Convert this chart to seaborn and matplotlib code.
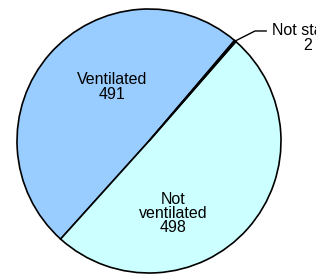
import numpy as np
import seaborn as sns
import matplotlib.pyplot as plt

categories = ["Ventilated", "Not ventilated", "Not stated"]
counts = [491, 498, 2]
label_texts = ["Ventilated\n491", "Not\nventilated\n498", "Not stated\n2"]
colors = ["#99CCFF", "#CCFFFF", "#FFFFFF"]

sns.set_style("white")
plt.rcParams["font.family"] = ["Liberation Sans", "DejaVu Sans"]

W, H = 327, 278
right_px = 316  # plot area ends before the right border (clips the last label)
fig = plt.figure(figsize=(W / 100, H / 100), dpi=100)
ax = fig.add_axes([0, 0, right_px / W, 1])

r_px = 132
cx, cy = 149, 141  # pie centre in pixels from top-left
wedges, _ = ax.pie(counts, colors=colors, startangle=49.6, counterclock=True,
                   radius=1.0,
                   wedgeprops=dict(edgecolor="black", linewidth=1.2))
ax.set_aspect("auto")
ax.set_xlim(-cx / r_px, (right_px - cx) / r_px)
ax.set_ylim(-(H - cy) / r_px, cy / r_px)
ax.axis("off")

fs = 11.5
ax.text(-0.28, 0.41, label_texts[0], ha="center", va="center", fontsize=fs,
        linespacing=0.95, color="black")
ax.text(0.18, -0.55, label_texts[1], ha="center", va="center", fontsize=fs,
        linespacing=0.95, color="black")

# leader line for the tiny slice
w = wedges[2]
mid = np.deg2rad((w.theta1 + w.theta2) / 2)
x0, y0 = np.cos(mid), np.sin(mid)
ax.plot([x0, x0 + 0.15, x0 + 0.24], [y0, y0 + 0.076, y0 + 0.076],
        color="black", lw=1.0, solid_capstyle="butt")
ax.text(1.205, 0.78, label_texts[2], ha="center", va="center", fontsize=fs,
        linespacing=0.95, color="black", clip_on=True)

fig.savefig("out.png", dpi=100)
